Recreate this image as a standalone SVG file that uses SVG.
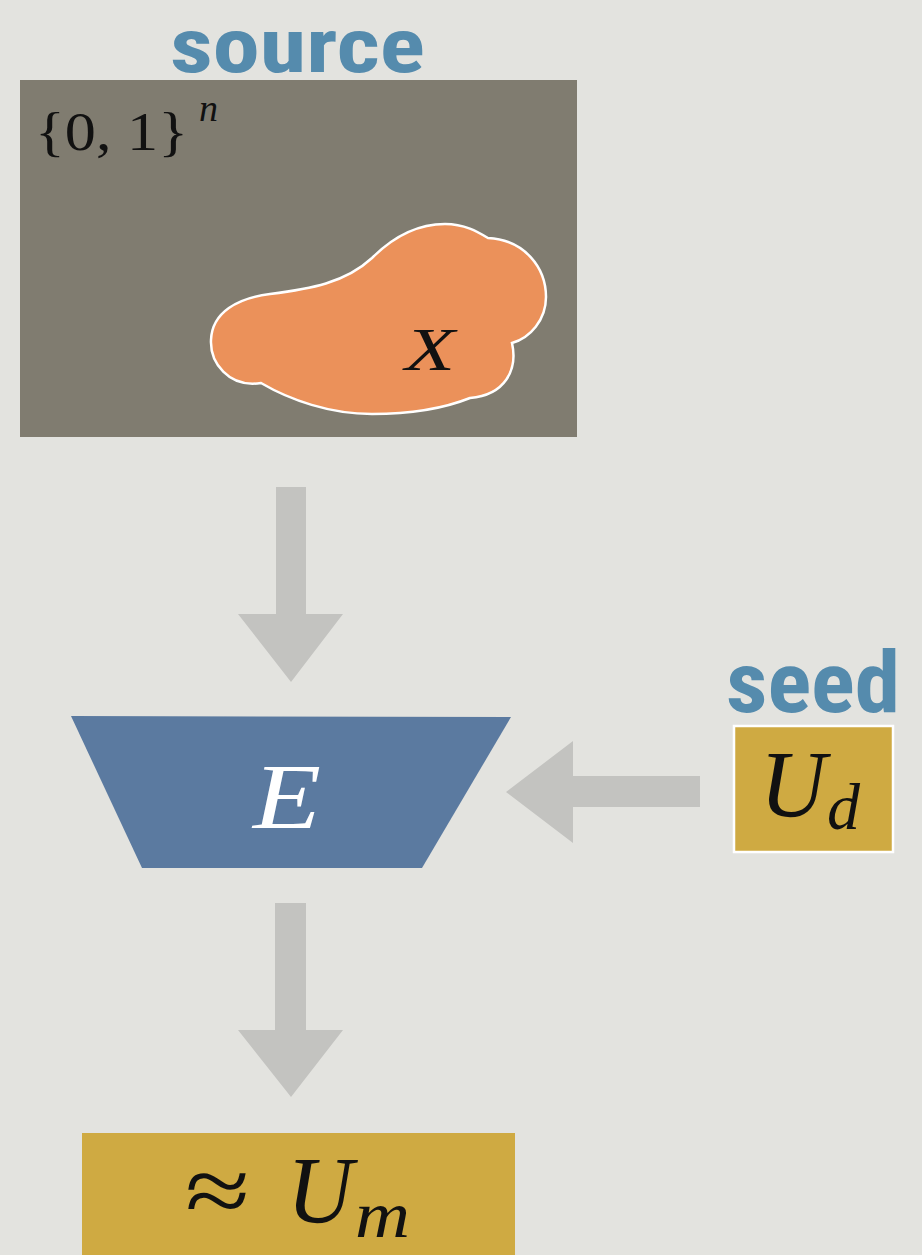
<svg xmlns="http://www.w3.org/2000/svg" width="922" height="1255" viewBox="0 0 922 1255">
<style>
.bg{fill:#e3e3df}
.label{font-family:"Liberation Sans Narrow","Roboto Condensed","Liberation Sans",sans-serif;font-weight:bold;fill:#558bad}
.math{font-family:"Liberation Serif","DejaVu Serif",serif;fill:#111}
.it{font-style:italic}
.arrow{fill:#c3c3c0}
.gold{fill:#cfaa42}
</style>
<rect class="bg" x="0" y="0" width="922" height="1255"/>

<g id="source">
  <text class="label" x="170" y="72" font-size="76" textLength="255" lengthAdjust="spacingAndGlyphs">source</text>
  <rect x="20" y="80" width="557" height="357" fill="#807c70"/>
  <text class="math" font-size="54"><tspan x="35" y="150" textLength="153" lengthAdjust="spacingAndGlyphs">{0, 1}</tspan><tspan class="it" x="199" y="121" font-size="38">n</tspan></text>
</g>

<g id="X">
  <path d="M 261 383 C 228 388 210 362 211 340 C 212 312 238 298 270 294 C 310 289 345 283 372 258 C 395 235 420 224 445 224 C 465 224 478 232 488 238 C 525 240 546 268 546 297 C 546 320 530 338 512 343 C 518 370 505 395 470 398 C 440 410 405 414 372 414 C 330 414 290 400 261 383 Z" fill="#eb915a" stroke="#ffffff" stroke-width="2.5"/>
  <text class="math it" x="405" y="370" font-size="62" textLength="50" lengthAdjust="spacingAndGlyphs">X</text>
</g>

<g id="E">
  <polygon points="71,716 511,717 422,868 142,868" fill="#5b7aa0"/>
  <text class="math it" x="253" y="828" font-size="94" textLength="68" lengthAdjust="spacingAndGlyphs" style="fill:#ffffff">E</text>
</g>

<g id="seed">
  <text class="label" x="726" y="712" font-size="86" textLength="174" lengthAdjust="spacingAndGlyphs">seed</text>
  <rect class="gold" x="734" y="726" width="159" height="126" stroke="#ffffff" stroke-width="2.5"/>
  <text class="math it" font-size="96"><tspan x="760" y="817" textLength="66" lengthAdjust="spacingAndGlyphs">U</tspan><tspan x="827" y="829" font-size="66">d</tspan></text>
</g>

<g id="output">
  <rect class="gold" x="82" y="1133" width="433" height="130"/>
  <text class="math" font-size="96"><tspan x="185" y="1223" textLength="65" lengthAdjust="spacingAndGlyphs">≈</tspan><tspan class="it" x="287" y="1223" textLength="66" lengthAdjust="spacingAndGlyphs">U</tspan><tspan class="it" x="355" y="1237" font-size="66" textLength="55" lengthAdjust="spacingAndGlyphs">m</tspan></text>
</g>

<g id="connectors">
  <polygon class="arrow" points="276,487 306,487 306,614 343,614 291,682 238,614 276,614"/>
  <polygon class="arrow" points="700,776 700,807 573,807 573,843 506,792 573,741 573,776"/>
  <polygon class="arrow" points="275,903 306,903 306,1030 343,1030 291,1097 238,1030 275,1030"/>
</g>
</svg>
